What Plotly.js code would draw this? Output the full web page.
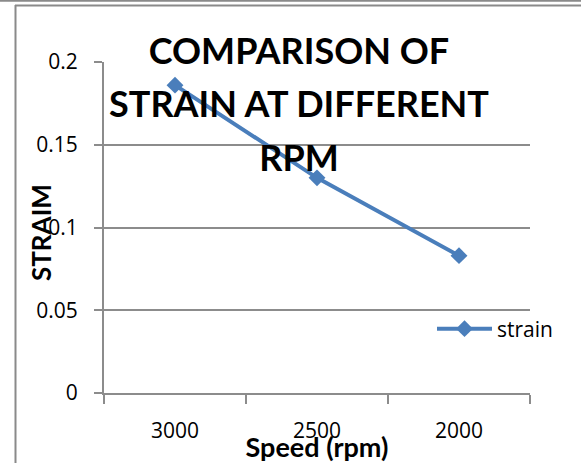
<!DOCTYPE html>
<html>
<head>
<meta charset="utf-8">
<script src="https://cdn.plot.ly/plotly-3.0.1.min.js"></script>
<style>
html,body{margin:0;padding:0;background:#fff;}
#chart{width:581px;height:463px;}
</style>
</head>
<body>
<div id="chart"></div>
<script>
// Data
const speedCategories = ["3000", "2500", "2000"];
const strainValues = [0.186, 0.130, 0.083];
const seriesName = "strain";
const yTickValues = [0, 0.05, 0.1, 0.15, 0.2];
const yTickLabels = ["0", "0.05", "0.1", "0.15", "0.2"];
const titleLines = ["COMPARISON OF", "STRAIN AT DIFFERENT", "RPM"];
const xTitle = "Speed (rpm)";
const yTitle = "STRAIM";

const boldFont = 'Lato, "DejaVu Sans", sans-serif';
const tickFont = '"Open Sans", "Liberation Sans", sans-serif';
const blue = "#4A7EBB";
const grid = "#8c8c8c";

const W = 581, H = 463, L = 104, R = 51, T = 62, B = 70;
const pw = W - L - R, ph = H - T - B;
const px = v => (v - L) / pw;
const py = v => (H - B - v) / ph;

const trace = {
  type: "scatter",
  mode: "lines+markers",
  name: seriesName,
  x: speedCategories,
  y: strainValues,
  line: {color: blue, width: 4},
  marker: {symbol: "diamond", size: 13, color: blue}
};

const titleText = titleLines.map(s => '<span style="font-size:36px">' + s + '</span>').join("<br>");

const layout = {
  width: W, height: H,
  margin: {l: L, r: R, t: T, b: B},
  paper_bgcolor: "#ffffff",
  plot_bgcolor: "#ffffff",
  title: {
    text: titleText,
    font: {family: boldFont, size: 41, color: "#000000", weight: "bold"},
    x: 299 / W, xanchor: "center", xref: "container",
    y: 1 - 64 / H, yanchor: "top", yref: "container"
  },
  xaxis: {
    type: "category",
    range: [-0.5, 2.5],
    tickson: "boundaries",
    ticks: "outside", ticklen: 9, tickwidth: 2, tickcolor: grid,
    showline: true, linecolor: grid, linewidth: 2,
    showgrid: false, zeroline: false,
    tickfont: {family: tickFont, size: 21, color: "#000000"},
    ticklabelstandoff: 18,
    title: {text: xTitle, font: {family: boldFont, size: 27, color: "#000000", weight: "bold"}, standoff: 0}
  },
  yaxis: {
    range: [0, 0.2],
    tickvals: yTickValues, ticktext: yTickLabels,
    ticks: "outside", ticklen: 8, tickwidth: 2, tickcolor: grid,
    showline: true, linecolor: grid, linewidth: 2,
    showgrid: true, gridcolor: grid, gridwidth: 1.5,
    zeroline: false,
    tickfont: {family: tickFont, size: 21, color: "#000000"},
    ticklabelstandoff: 12
  },
  annotations: [
    {text: yTitle, textangle: -90, showarrow: false,
     xref: "paper", yref: "paper", x: px(41), y: py(233), xanchor: "center", yanchor: "middle",
     font: {family: boldFont, size: 26, color: "#000000", weight: "bold"}}
  ],
  showlegend: true,
  legend: {
    x: px(432), xanchor: "left",
    y: py(329), yanchor: "middle",
    bgcolor: "rgba(0,0,0,0)",
    itemwidth: 55,
    font: {family: tickFont, size: 21, color: "#000000"}
  },
  shapes: [
    {type: "line", xref: "paper", yref: "paper", x0: px(0), x1: px(W), y0: py(0.8), y1: py(0.8), line: {color: "#8a8a8a", width: 2}},
    {type: "line", xref: "paper", yref: "paper", x0: px(15), x1: px(W), y0: py(5.5), y1: py(5.5), line: {color: "#8a8a8a", width: 2}},
    {type: "line", xref: "paper", yref: "paper", x0: px(15.5), x1: px(15.5), y0: py(5), y1: py(H), line: {color: "#8a8a8a", width: 2}}
  ]
};

Plotly.newPlot("chart", [trace], layout, {displayModeBar: false, responsive: false});
</script>
</body>
</html>
